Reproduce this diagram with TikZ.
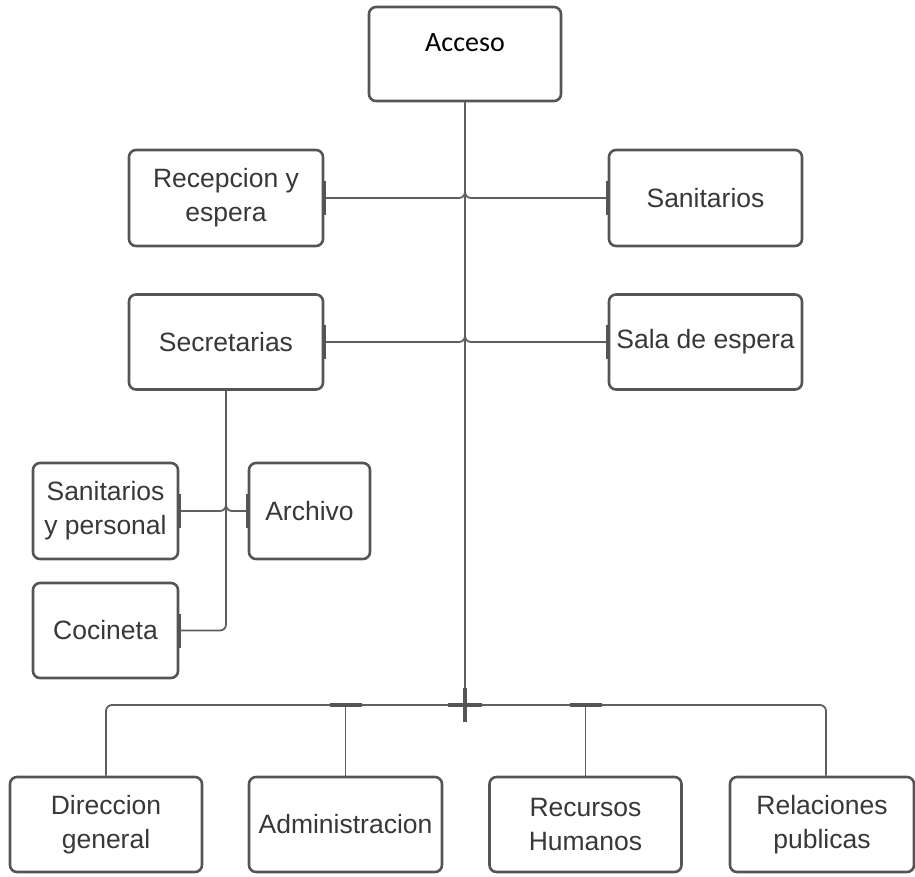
\documentclass[tikz,border=0pt]{standalone}
\usepackage{fontspec}
\setmainfont{Liberation Sans}
\newfontfamily\calib{Carlito}
\definecolor{boxc}{HTML}{555555}
\definecolor{linec}{HTML}{5E5E5E}
\definecolor{txtc}{HTML}{383838}
\begin{document}
\begin{tikzpicture}[x=1pt,y=-1pt,
  box/.style={draw=boxc, line width=2.6pt, rounded corners=7pt, fill=white, inner sep=0pt,
    align=center, text=txtc, font=\fontsize{26.5}{34}\selectfont},
  conn/.style={draw=linec, line width=1.8pt, rounded corners=6pt},
  tickmark/.style={draw=boxc, line width=4pt}]
\useasboundingbox (0,0) rectangle (915,876);

% boxes
\node[box, minimum width=192pt, minimum height=94pt, text height=19pt, text depth=24pt,
  font=\calib\fontsize{28}{34}\selectfont, text=black] (acceso) at (465,54) {Acceso};
\node[box, minimum width=194pt, minimum height=96pt] (recep) at (226,198) {Recepcion y\\espera};
\node[box, minimum width=193pt, minimum height=96pt] (sanit) at (705.5,198) {Sanitarios};
\node[box, minimum width=194pt, minimum height=95pt] (secr) at (226,342) {Secretarias};
\node[box, minimum width=193pt, minimum height=95pt] (sala) at (705.5,342) {Sala de espera};
\node[box, minimum width=145pt, minimum height=96pt] (sanp) at (105.5,511) {Sanitarios\\y personal};
\node[box, minimum width=121pt, minimum height=96pt] (arch) at (309.5,511) {Archivo};
\node[box, minimum width=145pt, minimum height=95pt] (coc) at (105.5,630.5) {Cocineta};
\node[box, minimum width=192pt, minimum height=95pt] (dir) at (106,824.5) {Direccion\\general};
\node[box, minimum width=193pt, minimum height=95pt] (adm) at (345.5,824.5) {Administracion};
\node[box, minimum width=192pt, minimum height=95pt] (rec) at (585.5,824.5) {Recursos\\Humanos};
\node[box, minimum width=184pt, minimum height=95pt] (rel) at (822,824.5) {Relaciones\\publicas};

% coordinates
\coordinate (bus) at (465,705);
\coordinate (trunkend) at (465,722);
\coordinate (relin) at ([xshift=4pt]rel.north);

% connectors
\draw[conn] (acceso.south) |- (recep.east);
\draw[conn] (acceso.south) |- (sanit.west);
\draw[conn] (acceso.south) |- (secr.east);
\draw[conn] (acceso.south) |- (sala.west);
\draw[conn] (acceso.south) -- (trunkend);
\draw[conn] (bus) -| (dir.north);
\draw[conn] (bus) -| (relin);
\draw[conn] (adm.north |- bus) -- (adm.north);
\draw[conn] (rec.north |- bus) -- (rec.north);
\draw[conn] (secr.south) |- (sanp.east);
\draw[conn] (secr.south) |- (arch.west);
\draw[conn] (secr.south) |- (coc.east);

% tick marks at box sides
\foreach \a in {recep.east, sanit.west, secr.east, sala.west, sanp.east, arch.west, coc.east}
  \draw[tickmark] ([yshift=-17pt]\a) -- ([yshift=17pt]\a);
% tick marks on the bus
\draw[tickmark] ([xshift=-16pt]adm.north |- bus) -- ([xshift=16pt]adm.north |- bus);
\draw[tickmark] ([xshift=-16pt]rec.north |- bus) -- ([xshift=16pt]rec.north |- bus);
\draw[tickmark] ([xshift=-17pt]bus) -- ([xshift=17pt]bus);
\draw[tickmark] ([yshift=17pt]bus) -- (trunkend);
\end{tikzpicture}
\end{document}
